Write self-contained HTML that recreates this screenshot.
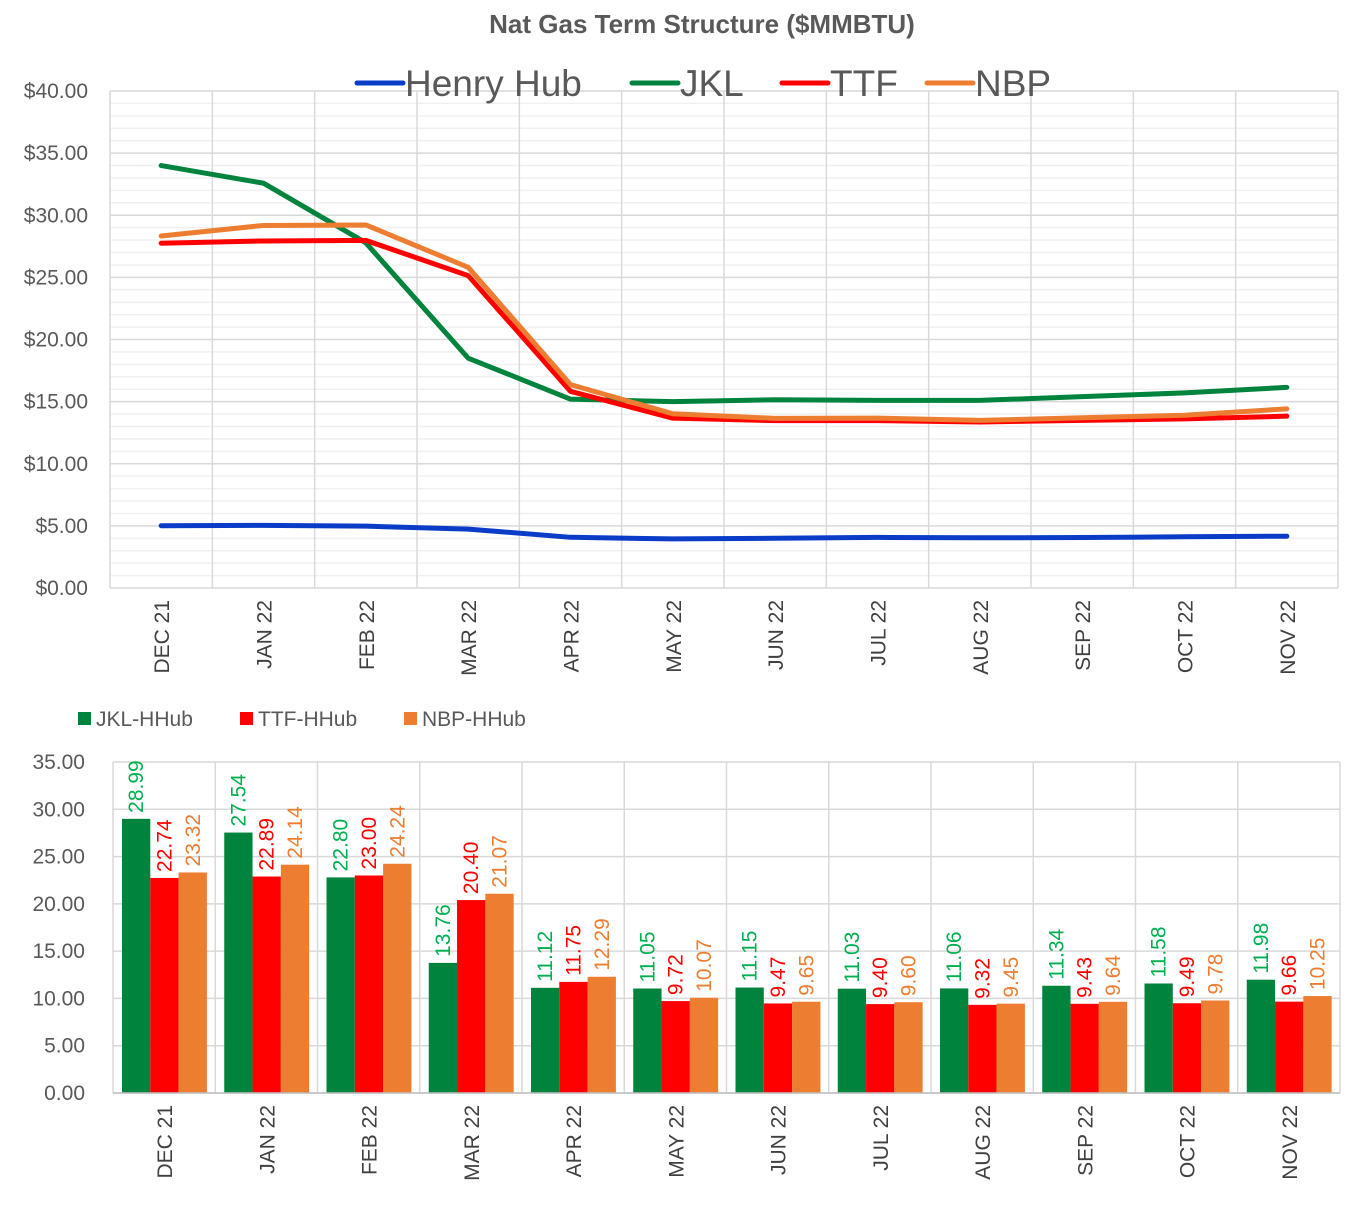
<!DOCTYPE html>
<html><head><meta charset="utf-8"><style>
body{margin:0;background:#fff;}
svg{display:block;font-family:"Liberation Sans",Arial,sans-serif;}
</style></head><body>
<svg id="c" width="1367" height="1207">
<text x="702" y="33" text-anchor="middle" font-size="26" font-weight="bold" fill="#595959">Nat Gas Term Structure ($MMBTU)</text>
<g id="topChart"></g>
<g id="botChart"></g>
</svg>
<script>
const categories=["DEC 21","JAN 22","FEB 22","MAR 22","APR 22","MAY 22","JUN 22","JUL 22","AUG 22","SEP 22","OCT 22","NOV 22"];
const henryHub=[5.01,5.04,4.98,4.74,4.08,3.95,4.00,4.07,4.04,4.06,4.12,4.17];
const jkl=[34.00,32.58,27.78,18.50,15.20,15.00,15.15,15.10,15.10,15.40,15.70,16.15];
const ttf=[27.75,27.93,27.98,25.14,15.83,13.67,13.47,13.47,13.36,13.49,13.61,13.83];
const nbp=[28.33,29.18,29.22,25.81,16.37,14.02,13.65,13.67,13.49,13.70,13.90,14.42];
const jklSpread=[28.99,27.54,22.80,13.76,11.12,11.05,11.15,11.03,11.06,11.34,11.58,11.98];
const ttfSpread=[22.74,22.89,23.00,20.40,11.75,9.72,9.47,9.40,9.32,9.43,9.49,9.66];
const nbpSpread=[23.32,24.14,24.24,21.07,12.29,10.07,9.65,9.60,9.45,9.64,9.78,10.25];
const topTicks=["$0.00","$5.00","$10.00","$15.00","$20.00","$25.00","$30.00","$35.00","$40.00"];
const botTicks=["0.00","5.00","10.00","15.00","20.00","25.00","30.00","35.00"];

const NS="http://www.w3.org/2000/svg";
function mk(p,t,a,txt){const e=document.createElementNS(NS,t);for(const k in a)e.setAttribute(k,a[k]);if(txt!==undefined)e.textContent=txt;p.appendChild(e);return e;}
const GREEN="#00843d",RED="#ff0000",ORANGE="#ed7d31",BLUE="#0a3cc8";

// Top chart
const topG=document.getElementById('topChart');
const T={l:110,r:1338,t:91,b:588,max:40};
const tx=i=>T.l+(i+0.5)*(T.r-T.l)/12;
const ty=v=>T.b-v/T.max*(T.b-T.t);
for(let v=1;v<40;v++){if(v%5)mk(topG,'line',{x1:T.l,x2:T.r,y1:ty(v),y2:ty(v),stroke:'#f0f0f0','stroke-width':1.5});}
for(let i=0;i<=12;i++){const x=T.l+i*(T.r-T.l)/12;mk(topG,'line',{x1:x,x2:x,y1:T.t,y2:T.b,stroke:'#d9d9d9','stroke-width':1.5});}
topTicks.forEach((s,i)=>{const v=i*5;mk(topG,'line',{x1:T.l,x2:T.r,y1:ty(v),y2:ty(v),stroke:'#d9d9d9','stroke-width':1.5});
 const t=mk(topG,'text',{x:88,y:ty(v)+7,'text-anchor':'end','font-size':21,fill:'#595959'},s);
 
 });
categories.forEach((c,i)=>{const x=tx(i);const t=mk(topG,'text',{transform:`translate(${x+8},600) rotate(-90)`,'text-anchor':'end','font-size':21,fill:'#404040'},c);
 
 });
[[henryHub,BLUE,'henry-hub-line'],[jkl,GREEN,'jkl-line'],[ttf,RED,'ttf-line'],[nbp,ORANGE,'nbp-line']].forEach(([d,col,n])=>{
 const p=mk(topG,'polyline',{points:d.map((v,i)=>tx(i)+','+ty(v)).join(' '),fill:'none',stroke:col,'stroke-width':5,'stroke-linejoin':'round','stroke-linecap':'round'});
 
 });
const leg=[["Henry Hub",BLUE,357],["JKL",GREEN,632],["TTF",RED,782],["NBP",ORANGE,927]];
leg.forEach(([n,c,x])=>{const g=mk(topG,'g',{});
 
 
 mk(g,'line',{x1:x,x2:x+46,y1:83,y2:83,stroke:c,'stroke-width':5,'stroke-linecap':'round'});
 mk(g,'text',{x:x+48,y:96,'font-size':37,fill:'#595959'},n);});

// Bottom chart
const botG=document.getElementById('botChart');
const B={l:113,r:1340,t:762,b:1093,max:35};
const cw=(B.r-B.l)/12;
const by=v=>B.b-v/B.max*(B.b-B.t);
for(let i=0;i<=12;i++){const x=B.l+i*cw;mk(botG,'line',{x1:x,x2:x,y1:B.t,y2:B.b,stroke:'#d9d9d9','stroke-width':1.5});}
botTicks.forEach((s,i)=>{const v=i*5;mk(botG,'line',{x1:B.l,x2:B.r,y1:by(v),y2:by(v),stroke:'#d9d9d9','stroke-width':1.5});
 const t=mk(botG,'text',{x:85,y:by(v)+7,'text-anchor':'end','font-size':21,fill:'#595959'},s);
 
 });
const bw=28.3;
const series=[[jklSpread,GREEN,'#00b050','bar-jkl-hhub'],[ttfSpread,RED,RED,'bar-ttf-hhub'],[nbpSpread,ORANGE,ORANGE,'bar-nbp-hhub']];
categories.forEach((c,i)=>{
 const x0=B.l+i*cw+9;
 series.forEach(([d,col,lc,n],k)=>{
  const x=x0+k*bw,y=by(d[i]);
  const r=mk(botG,'rect',{x:x,y:y,width:bw,height:B.b-y,fill:col});
  
  
  const t=mk(botG,'text',{transform:`translate(${x+bw/2+7},${y-6}) rotate(-90)`,'font-size':21,fill:lc},d[i].toFixed(2));
  
  
 });
 const t=mk(botG,'text',{transform:`translate(${B.l+(i+0.5)*cw+8},1105) rotate(-90)`,'text-anchor':'end','font-size':21,fill:'#404040'},c);
 
 
});
mk(botG,'line',{x1:B.l,x2:B.r,y1:B.b,y2:B.b,stroke:'#bfbfbf','stroke-width':1.5});
const leg2=[["JKL-HHub",GREEN,78],["TTF-HHub",RED,240],["NBP-HHub",ORANGE,404]];
leg2.forEach(([n,c,x])=>{const g=mk(botG,'g',{});
 
 
 mk(g,'rect',{x:x,y:712,width:13,height:13,fill:c});
 mk(g,'text',{x:x+18,y:726,'font-size':21,fill:'#595959'},n);});
</script>
</body></html>
